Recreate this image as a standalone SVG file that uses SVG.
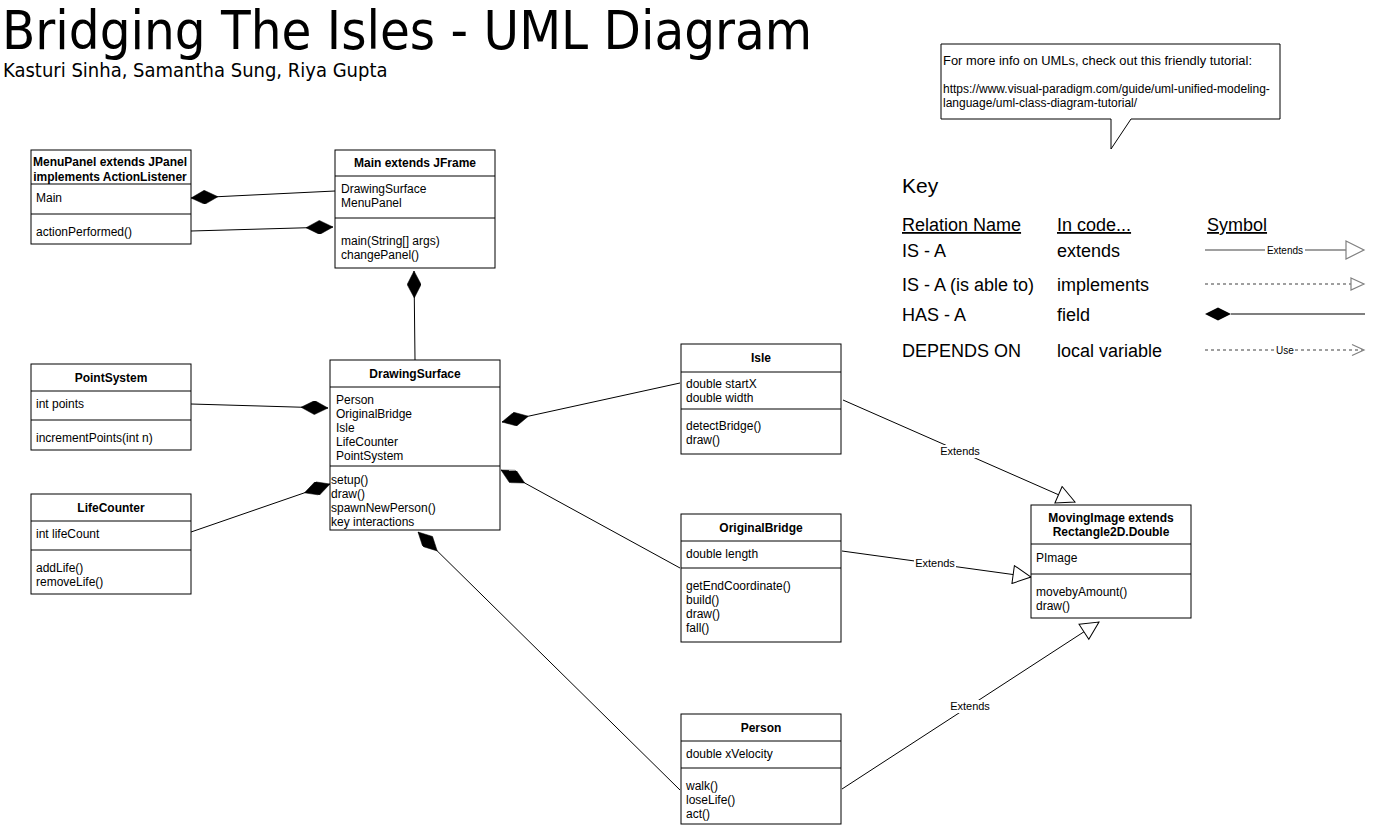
<svg xmlns="http://www.w3.org/2000/svg" width="1392" height="827" viewBox="0 0 1392 827">
<style>
.box{fill:#fff;stroke:#000;stroke-width:1}
.sep{stroke:#000;stroke-width:1}
.t{font-family:"Liberation Sans",Arial,sans-serif;font-size:12px;fill:#000}
.h{font-family:"Liberation Sans",Arial,sans-serif;font-size:12px;font-weight:bold;fill:#000;text-anchor:middle}
.ln{fill:none;stroke:#000;stroke-width:1}
.lbl{font-family:"Liberation Sans",Arial,sans-serif;font-size:11px;fill:#000;text-anchor:middle}
.k{font-family:"Liberation Sans",Arial,sans-serif;font-size:18px;fill:#000}
.kl{fill:none;stroke:#808080;stroke-width:1.3}
</style>
<defs>
<marker id="dia" viewBox="0 0 27 14" refX="0" refY="7" markerWidth="27" markerHeight="14" markerUnits="userSpaceOnUse" orient="auto">
<path d="M0,7 L13.5,0 L27,7 L13.5,14 Z" fill="#000" stroke="#000" stroke-width="0.5"/>
</marker>
<marker id="tri" viewBox="0 0 20 20" refX="19" refY="10" markerWidth="20" markerHeight="20" markerUnits="userSpaceOnUse" orient="auto">
<path d="M1,1 L19,10 L1,19 Z" fill="#fff" stroke="#000" stroke-width="1"/>
</marker>
</defs>
<rect width="1392" height="827" fill="#fff"/>

<g id="title">
<text x="2" y="49" font-family="DejaVu Sans Condensed,DejaVu Sans,sans-serif" font-size="54">Bridging The Isles - UML Diagram</text>
<text x="3" y="77" font-family="DejaVu Sans Condensed,DejaVu Sans,sans-serif" font-size="20">Kasturi Sinha, Samantha Sung, Riya Gupta</text>
</g>

<g id="callout">
<path d="M941,44 L1280,44 L1280,119 L1131,119 L1111,149 L1111,119 L941,119 Z" fill="#fff" stroke="#000"/>
<text class="t" x="943" y="65" textLength="309" lengthAdjust="spacingAndGlyphs">For more info on UMLs, check out this friendly tutorial:</text>
<text class="t" x="943" y="93">https://www.visual-paradigm.com/guide/uml-unified-modeling-</text>
<text class="t" x="943" y="107">language/uml-class-diagram-tutorial/</text>
</g>

<g id="connectors">
<path class="ln" d="M191,198 L335,191" marker-start="url(#dia)"/>
<path class="ln" d="M333,227 L191,231" marker-start="url(#dia)"/>
<path class="ln" d="M414,271 L415,360" marker-start="url(#dia)"/>
<path class="ln" d="M328,408 L191,404" marker-start="url(#dia)"/>
<path class="ln" d="M330,484 L191,532" marker-start="url(#dia)"/>
<path class="ln" d="M502,422 L680,383" marker-start="url(#dia)"/>
<path class="ln" d="M501,470 L680,568" marker-start="url(#dia)"/>
<path class="ln" d="M418,532 L680,790" marker-start="url(#dia)"/>
<path class="ln" d="M843,400 L1075,502" marker-end="url(#tri)"/>
<path class="ln" d="M842,551 L1031,577" marker-end="url(#tri)"/>
<path class="ln" d="M842,789 L1099,622" marker-end="url(#tri)"/>
<rect x="939" y="445" width="42" height="13" fill="#fff"/>
<text class="lbl" x="960" y="455">Extends</text>
<rect x="914" y="557" width="42" height="13" fill="#fff"/>
<text class="lbl" x="935" y="567">Extends</text>
<rect x="949" y="700" width="42" height="13" fill="#fff"/>
<text class="lbl" x="970" y="710">Extends</text>
</g>

<g id="MenuPanel">
<rect class="box" x="31" y="150" width="160" height="94"/>
<line class="sep" x1="31" y1="184" x2="191" y2="184"/>
<line class="sep" x1="31" y1="214" x2="191" y2="214"/>
<text class="h" x="110" y="166">MenuPanel extends JPanel</text>
<text class="h" x="110" y="181">implements ActionListener</text>
<text class="t" x="36" y="202">Main</text>
<text class="t" x="36" y="236">actionPerformed()</text>
</g>

<g id="Main">
<rect class="box" x="335" y="150" width="160" height="118"/>
<line class="sep" x1="335" y1="176" x2="495" y2="176"/>
<line class="sep" x1="335" y1="218" x2="495" y2="218"/>
<text class="h" x="415" y="167">Main extends JFrame</text>
<text class="t" x="341" y="193">DrawingSurface</text>
<text class="t" x="341" y="207">MenuPanel</text>
<text class="t" x="341" y="245">main(String[] args)</text>
<text class="t" x="341" y="259">changePanel()</text>
</g>

<g id="PointSystem">
<rect class="box" x="31" y="364" width="160" height="86"/>
<line class="sep" x1="31" y1="391" x2="191" y2="391"/>
<line class="sep" x1="31" y1="420" x2="191" y2="420"/>
<text class="h" x="111" y="382">PointSystem</text>
<text class="t" x="36" y="408">int points</text>
<text class="t" x="36" y="442">incrementPoints(int n)</text>
</g>

<g id="LifeCounter">
<rect class="box" x="31" y="494" width="160" height="100"/>
<line class="sep" x1="31" y1="521" x2="191" y2="521"/>
<line class="sep" x1="31" y1="550" x2="191" y2="550"/>
<text class="h" x="111" y="512">LifeCounter</text>
<text class="t" x="36" y="538">int lifeCount</text>
<text class="t" x="36" y="572">addLife()</text>
<text class="t" x="36" y="586">removeLife()</text>
</g>

<g id="DrawingSurface">
<rect class="box" x="330" y="360" width="170" height="170"/>
<line class="sep" x1="330" y1="387" x2="500" y2="387"/>
<line class="sep" x1="330" y1="466" x2="500" y2="466"/>
<text class="h" x="415" y="378">DrawingSurface</text>
<text class="t" x="336" y="404">Person</text>
<text class="t" x="336" y="418">OriginalBridge</text>
<text class="t" x="336" y="432">Isle</text>
<text class="t" x="336" y="446">LifeCounter</text>
<text class="t" x="336" y="460">PointSystem</text>
<text class="t" x="331" y="484">setup()</text>
<text class="t" x="331" y="498">draw()</text>
<text class="t" x="331" y="512">spawnNewPerson()</text>
<text class="t" x="331" y="526">key interactions</text>
</g>

<g id="Isle">
<rect class="box" x="681" y="344" width="160" height="110"/>
<line class="sep" x1="681" y1="372" x2="841" y2="372"/>
<line class="sep" x1="681" y1="409" x2="841" y2="409"/>
<text class="h" x="761" y="362">Isle</text>
<text class="t" x="686" y="388">double startX</text>
<text class="t" x="686" y="402">double width</text>
<text class="t" x="686" y="430">detectBridge()</text>
<text class="t" x="686" y="444">draw()</text>
</g>

<g id="OriginalBridge">
<rect class="box" x="681" y="514" width="160" height="128"/>
<line class="sep" x1="681" y1="541" x2="841" y2="541"/>
<line class="sep" x1="681" y1="568" x2="841" y2="568"/>
<text class="h" x="761" y="532">OriginalBridge</text>
<text class="t" x="686" y="558">double length</text>
<text class="t" x="686" y="590">getEndCoordinate()</text>
<text class="t" x="686" y="604">build()</text>
<text class="t" x="686" y="618">draw()</text>
<text class="t" x="686" y="632">fall()</text>
</g>

<g id="Person">
<rect class="box" x="681" y="714" width="160" height="110"/>
<line class="sep" x1="681" y1="741" x2="841" y2="741"/>
<line class="sep" x1="681" y1="768" x2="841" y2="768"/>
<text class="h" x="761" y="732">Person</text>
<text class="t" x="686" y="758">double xVelocity</text>
<text class="t" x="686" y="790">walk()</text>
<text class="t" x="686" y="804">loseLife()</text>
<text class="t" x="686" y="818">act()</text>
</g>

<g id="MovingImage">
<rect class="box" x="1031" y="505" width="160" height="113"/>
<line class="sep" x1="1031" y1="544" x2="1191" y2="544"/>
<line class="sep" x1="1031" y1="574" x2="1191" y2="574"/>
<text class="h" x="1111" y="522">MovingImage extends</text>
<text class="h" x="1111" y="536">Rectangle2D.Double</text>
<text class="t" x="1036" y="562">PImage</text>
<text class="t" x="1036" y="596">movebyAmount()</text>
<text class="t" x="1036" y="610">draw()</text>
</g>

<g id="key">
<text class="k" x="902" y="193" style="font-size:21px">Key</text>
<text class="k" x="902" y="231" text-decoration="underline">Relation Name</text>
<text class="k" x="1057" y="231" text-decoration="underline">In code...</text>
<text class="k" x="1207" y="231" text-decoration="underline">Symbol</text>
<text class="k" x="902" y="257">IS - A</text>
<text class="k" x="1057" y="257">extends</text>
<text class="k" x="902" y="291">IS - A (is able to)</text>
<text class="k" x="1057" y="291">implements</text>
<text class="k" x="902" y="321">HAS - A</text>
<text class="k" x="1057" y="321">field</text>
<text class="k" x="902" y="357">DEPENDS ON</text>
<text class="k" x="1057" y="357">local variable</text>
<line class="kl" x1="1205" y1="250" x2="1346" y2="250"/>
<path d="M1346,241 L1364,250 L1346,259 Z" fill="#fff" stroke="#808080" stroke-width="1.2"/>
<rect x="1265" y="244" width="40" height="12" fill="#fff"/>
<text x="1285" y="254" font-family="Liberation Sans,Arial,sans-serif" font-size="10" text-anchor="middle">Extends</text>
<line class="kl" x1="1205" y1="284" x2="1351" y2="284" stroke-dasharray="3,3"/>
<path d="M1351,278 L1364,284 L1351,290 Z" fill="#fff" stroke="#808080" stroke-width="1.2"/>
<path d="M1205,314 L1218,307.5 L1231,314 L1218,320.5 Z" fill="#000"/>
<line x1="1231" y1="314" x2="1365" y2="314" stroke="#000" stroke-width="1.2"/>
<line class="kl" x1="1205" y1="350" x2="1363" y2="350" stroke-dasharray="3,3"/>
<path d="M1352,344.5 L1364,350 L1352,355.5" fill="none" stroke="#808080" stroke-width="1.2"/>
<rect x="1275" y="344" width="20" height="12" fill="#fff"/>
<text x="1285" y="354" font-family="Liberation Sans,Arial,sans-serif" font-size="10" text-anchor="middle">Use</text>
</g>
</svg>
